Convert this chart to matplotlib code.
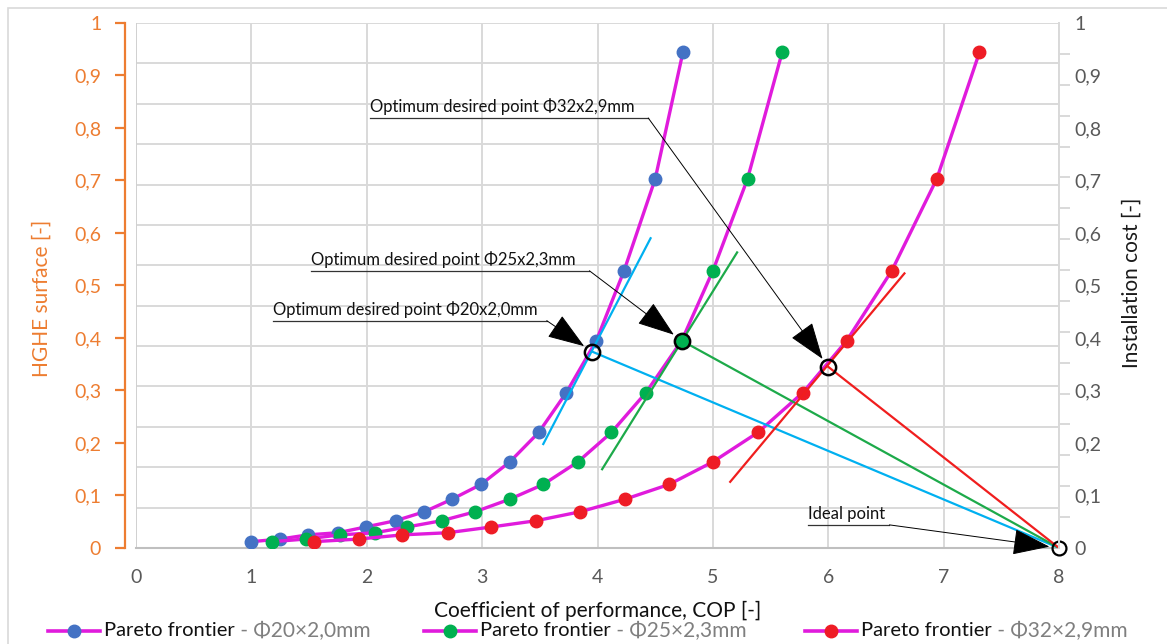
import numpy as np
import matplotlib.pyplot as plt
from matplotlib.patches import Rectangle
from matplotlib.lines import Line2D

plt.rcParams['font.family'] = ['Lato', 'DejaVu Sans']

# Pareto frontiers (COP vs HGHE surface), same surface levels for all pipes
surface = [0.012, 0.017, 0.025, 0.029, 0.040, 0.052, 0.069, 0.093, 0.121,
           0.164, 0.220, 0.296, 0.395, 0.528, 0.703, 0.944]
cop_20 = [1.00, 1.25, 1.49, 1.75, 1.99, 2.25, 2.50, 2.74, 2.99, 3.24,
          3.49, 3.73, 3.99, 4.23, 4.50, 4.74]
cop_25 = [1.18, 1.47, 1.77, 2.07, 2.35, 2.65, 2.94, 3.24, 3.53, 3.83,
          4.12, 4.42, 4.73, 5.00, 5.30, 5.60]
cop_32 = [1.54, 1.93, 2.31, 2.70, 3.08, 3.47, 3.85, 4.24, 4.62, 5.00,
          5.39, 5.78, 6.16, 6.55, 6.94, 7.31]

# optimum points, tangent segments and ideal point
opt_x = [3.954, 4.729, 6.0]
opt_y = [0.374, 0.395, 0.345]
tan_x = [[3.53, 4.46], [4.04, 5.21], [5.15, 6.66]]
tan_y = [[0.198, 0.590], [0.150, 0.563], [0.126, 0.523]]
ideal = (8.0, 0.0)

labels = ['Φ20×2,0mm', 'Φ25×2,3mm', 'Φ32×2,9mm']
marker_colors = ['#4472C4', '#00B050', '#EE1C25']
line_colors = ['#00B0F0', '#1DAA4A', '#F01E1E']
curve_color = '#E01BDC'

# callouts: text, text-left x, underline y, elbow x, target
callouts = [
    ('Optimum desired point Φ20x2,0mm', 1.187, 0.433, 3.56, (opt_x[0], opt_y[0])),
    ('Optimum desired point Φ25x2,3mm', 1.516, 0.528, 3.93, (opt_x[1], opt_y[1])),
    ('Optimum desired point Φ32x2,9mm', 2.028, 0.819, 4.44, (opt_x[2], opt_y[2])),
    ('Ideal point', 5.823, 0.044, 6.53, ideal),
]

fig = plt.figure(figsize=(11.67, 6.44), dpi=100)
fig.patches.append(Rectangle((8 / 1167, -0.01), 1.0, 1 - 8 / 644 + 0.01,
                             transform=fig.transFigure, fill=False,
                             edgecolor='#D9D9D9', lw=1.2))

ax = fig.add_axes([0.1165, 0.1491, 0.7910, 0.8152])
ax.set_xlim(0, 8)
ax.set_ylim(0, 1)

# grid: vertical at every COP unit, horizontal in 13 bands
for gx in range(1, 9):
    ax.axvline(gx, color='#D9D9D9', lw=1.4, zorder=0)
for gy in np.linspace(0, 1, 14)[1:]:
    ax.axhline(gy, color='#D9D9D9', lw=1.4, zorder=0)
ax.axvline(0, color='#D0D0D0', lw=1.4, zorder=0)

for cop, mc in zip([cop_20, cop_25, cop_32], marker_colors):
    ax.plot(cop, surface, color=curve_color, lw=2.4, marker='o', ms=9,
            mfc=mc, mec=mc, zorder=3)

for i in range(3):
    ax.plot(tan_x[i], tan_y[i], color=line_colors[i], lw=1.6, zorder=4)
    ax.plot([opt_x[i], ideal[0]], [opt_y[i], ideal[1]], color=line_colors[i],
            lw=1.6, zorder=4)

ax.plot(opt_x, opt_y, 'o', ms=11, mfc='none', mec='black', mew=1.8, zorder=6)
ax.plot(opt_x[1], opt_y[1], 'o', ms=10, mfc=marker_colors[1], mec='none', zorder=5)
ax.plot(*ideal, 'o', ms=10, mfc='none', mec='black', mew=1.6, zorder=6,
        clip_on=False)

for txt, tx, uy, ex, tgt in callouts:
    size = 12 if txt == 'Ideal point' else 12
    ax.text(tx, uy + 0.006, txt, fontsize=size, color='#111111', ha='left',
            va='bottom', zorder=7)
    ax.plot([tx, ex], [uy, uy], color='#333333', lw=0.9, zorder=7)
    ax.annotate('', xy=tgt, xytext=(ex, uy), zorder=7,
                arrowprops=dict(arrowstyle='-|>,head_length=1.7,head_width=0.6',
                                color='black', lw=0.7, shrinkA=0, shrinkB=7,
                                mutation_scale=14))

# left axis (orange)
ticks = np.arange(0, 1.01, 0.1)
tick_text = ['0', '0,1', '0,2', '0,3', '0,4', '0,5', '0,6', '0,7', '0,8', '0,9', '1']
ax.set_yticks(ticks)
ax.set_yticklabels(tick_text)
ax.spines['left'].set_position(('outward', 8))
ax.spines['left'].set_color('#ED7D31')
ax.spines['left'].set_linewidth(1.6)
ax.tick_params(axis='y', colors='#ED7D31', labelsize=14, length=7, width=1.6,
               pad=10)
ax.set_ylabel('HGHE surface [-]', color='#ED7D31', fontsize=15)
ax.yaxis.set_label_coords(-0.091, 0.476)

# x axis
ax.set_xticks(range(0, 9))
ax.tick_params(axis='x', colors='#595959', labelsize=14, length=0, pad=15)
ax.spines['bottom'].set_color('#BFBFBF')
ax.spines['bottom'].set_linewidth(1.5)
ax.spines['top'].set_visible(False)
ax.spines['right'].set_visible(False)
ax.set_xlabel('Coefficient of performance, COP [-]', fontsize=15, color='#111111')
ax.xaxis.set_label_coords(0.5, -0.1)

# right axis (grey)
ax2 = ax.twinx()
ax2.set_ylim(0, 1)
ax2.set_yticks(ticks)
ax2.set_yticklabels(tick_text)
ax2.set_yticks(np.linspace(0, 1, 18), minor=True)
ax2.tick_params(axis='y', which='major', length=0, colors='#595959',
                labelsize=14, pad=11)
ax2.tick_params(axis='y', which='minor', length=8, width=1.4, color='#D9D9D9')
for s in ['left', 'top', 'bottom']:
    ax2.spines[s].set_visible(False)
ax2.spines['right'].set_color('#D9D9D9')
ax2.spines['right'].set_linewidth(1.4)
ax2.set_ylabel('Installation cost [-]', fontsize=15, color='#1A1A1A')
ax2.yaxis.set_label_coords(1.068, 0.505)

# legend drawn by hand so the pipe size can be grey
leg_x = [48, 424, 805]
ly = 1 - 631 / 644
for x0, lab, mc in zip(leg_x, labels, marker_colors):
    fig.add_artist(Line2D([x0 / 1167, (x0 + 52) / 1167], [ly, ly],
                          transform=fig.transFigure, color=curve_color, lw=2.6))
    fig.add_artist(Line2D([(x0 + 26) / 1167], [ly], transform=fig.transFigure,
                          marker='o', ms=9, mfc=mc, mec=mc))
    t = fig.text((x0 + 56) / 1167, ly, 'Pareto frontier', fontsize=14.5,
                 color='#111111', va='center', ha='left')
    ax.annotate(' - ' + lab, xy=(1, 0.5), xycoords=t, fontsize=15,
                color='#7F7F7F', va='center', ha='left')

fig.savefig('out.png', dpi=100)
